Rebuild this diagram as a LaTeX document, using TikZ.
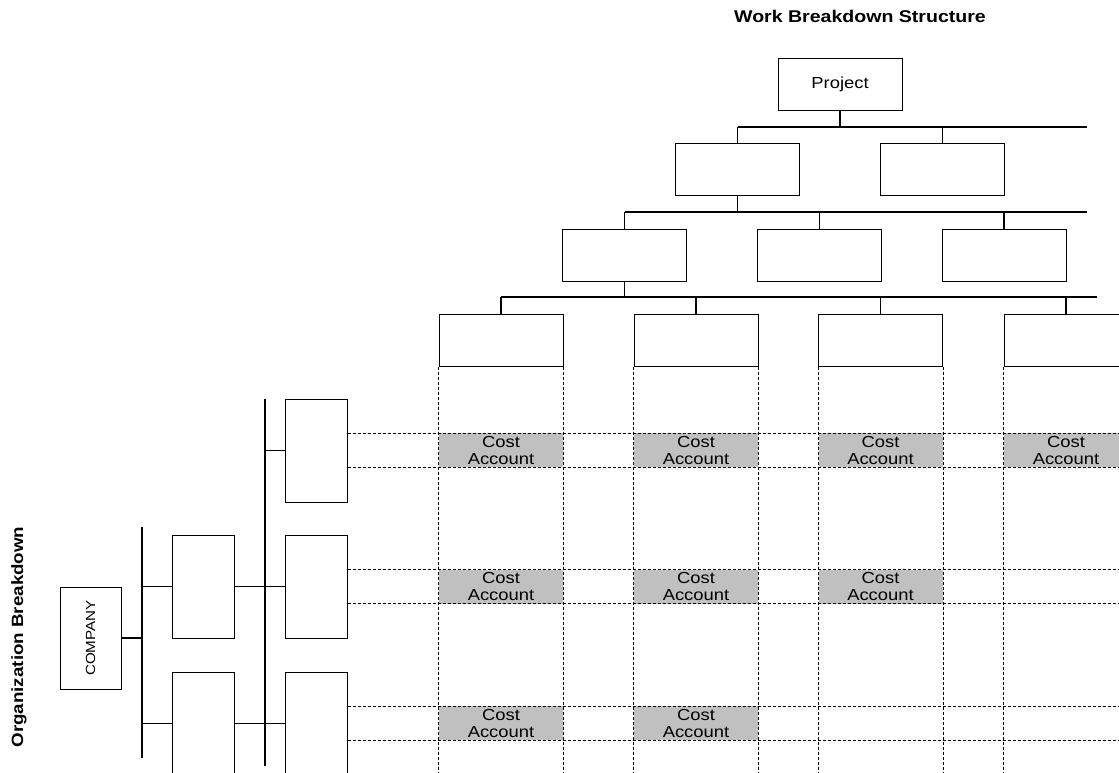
\documentclass[tikz,border=0pt]{standalone}
\usepackage{fontspec}
\setmainfont[FakeStretch=1.15]{Liberation Sans}
\definecolor{acctgray}{HTML}{C0C0C0}

\begin{document}
\begin{tikzpicture}[x=1pt, y=-1pt,
      wbsbox/.style ={rectangle, draw, line width=1pt, inner sep=0pt, minimum width=124pt, minimum height=52pt, font=\fontsize{16}{17}\selectfont},
      orgbox/.style ={rectangle, draw, line width=1pt, inner sep=0pt, minimum width=62pt, minimum height=103pt},
      costacct/.style ={rectangle, fill=acctgray, inner sep=0pt, minimum width=124pt, minimum height=34pt, align=center, font=\fontsize{16}{17}\selectfont},
      link/.style ={line width=1.2pt},
      grid/.style ={line width=0.9pt, dash pattern=on 3pt off 2pt}]
   \useasboundingbox (0,0) rectangle (1119,772);

   \node[font=\bfseries\fontsize{17}{19}\selectfont] (wbstitle) at (860,16) {Work Breakdown Structure};
   \node[font=\bfseries\fontsize{16.3}{18}\selectfont, rotate=90] (orgtitle) at (19,637) {Organization Breakdown};

   % work breakdown
   \node[wbsbox] (P)  at (840,84.5)  {Project};
   \node[wbsbox] (W21)  at (737.5,169.5)  {};
   \node[wbsbox] (W22)  at (942.5,169.5)  {};
   \node[wbsbox] (W31)  at (624.5,255)  {};
   \node[wbsbox] (W32)  at (819.5,255)  {};
   \node[wbsbox] (W33)  at (1004,255)  {};
   \node[wbsbox] (W41)  at (501,340)  {};
   \node[wbsbox] (W42)  at (696,340)  {};
   \node[wbsbox] (W43)  at (880.5,340)  {};
   \node[wbsbox] (W44)  at (1066,340)  {};

   \coordinate (bar2) at (1087,127);
   \coordinate (bar3) at (1087,212);
   \coordinate (bar4) at (1097,297);
   \coordinate (bottom) at (0,772);

   % cost accounts
   \node[costacct] (CA11) at (501,450) {Cost\\Account};
   \node[costacct] (CA12) at (696,450) {Cost\\Account};
   \node[costacct] (CA13) at (880.5,450) {Cost\\Account};
   \node[costacct] (CA14) at (1066,450) {Cost\\Account};
   \node[costacct] (CA21) at (501,586.5) {Cost\\Account};
   \node[costacct] (CA22) at (696,586.5) {Cost\\Account};
   \node[costacct] (CA23) at (880.5,586.5) {Cost\\Account};
   \node[costacct] (CA31) at (501,723) {Cost\\Account};
   \node[costacct] (CA32) at (696,723) {Cost\\Account};

   \draw[link] (P.south) to (P.south |- bar2);
   \draw[link] (W21.north |- bar2) to (bar2);
   \draw[link] (W21.north |- bar2) to (W21.north);
   \draw[link] (W22.north |- bar2) to (W22.north);

   \draw[link] (W21.south) to (W21.south |- bar3);
   \draw[link] (W31.north |- bar3) to (bar3);
   \draw[link] (W31.north |- bar3) to (W31.north);
   \draw[link] (W32.north |- bar3) to (W32.north);
   \draw[link] (W33.north |- bar3) to (W33.north);

   \draw[link] (W31.south) to (W31.south |- bar4);
   \draw[link] (W41.north |- bar4) to (bar4);
   \draw[link] (W41.north |- bar4) to (W41.north);
   \draw[link] (W42.north |- bar4) to (W42.north);
   \draw[link] (W43.north |- bar4) to (W43.north);
   \draw[link] (W44.north |- bar4) to (W44.north);

   % organization breakdown
   \node[orgbox, minimum width=61pt, minimum height=102pt] (C) at (90.5,638) {\rotatebox{90}{\fontsize{13.2}{15}\selectfont COMPANY}};
   \node[orgbox] (O21) at (203,586.5) {};
   \node[orgbox] (O22) at (203,723.5) {};
   \node[orgbox] (O31) at (316,450.5) {};
   \node[orgbox] (O32) at (316,586.5) {};
   \node[orgbox] (O33) at (316,723.5) {};

   \coordinate (obar1top) at (142,527);
   \coordinate (obar1bot) at (142,758);
   \coordinate (obar2top) at (265,399);
   \coordinate (obar2bot) at (265,766);

   \draw[link, line width=1.5pt] (obar1top) to (obar1bot);
   \draw[link, line width=1.5pt] (obar2top) to (obar2bot);
   \draw[link] (C.east) to (C.east -| obar1top);
   \draw[link] (O21.west -| obar1top) to (O21.west);
   \draw[link] (O22.west -| obar1top) to (O22.west);
   \draw[link] (O21.east) to (O32.west);
   \draw[link] (O22.east) to (O33.west);
   \draw[link] (O31.west -| obar2top) to (O31.west);

   % matrix lines
   \foreach \col in {W41,W42,W43,W44}
      {\draw[grid] (\col.south west) to (\col.south west |- bottom);
       \draw[grid] (\col.south east) to (\col.south east |- bottom);}
   \foreach \row in {O31,O32,O33}
      {\draw[grid] ([yshift=-17pt]\row.east) to ++(772,0);
       \draw[grid] ([yshift=17pt]\row.east) to ++(772,0);}

 \end{tikzpicture}
\end{document}
